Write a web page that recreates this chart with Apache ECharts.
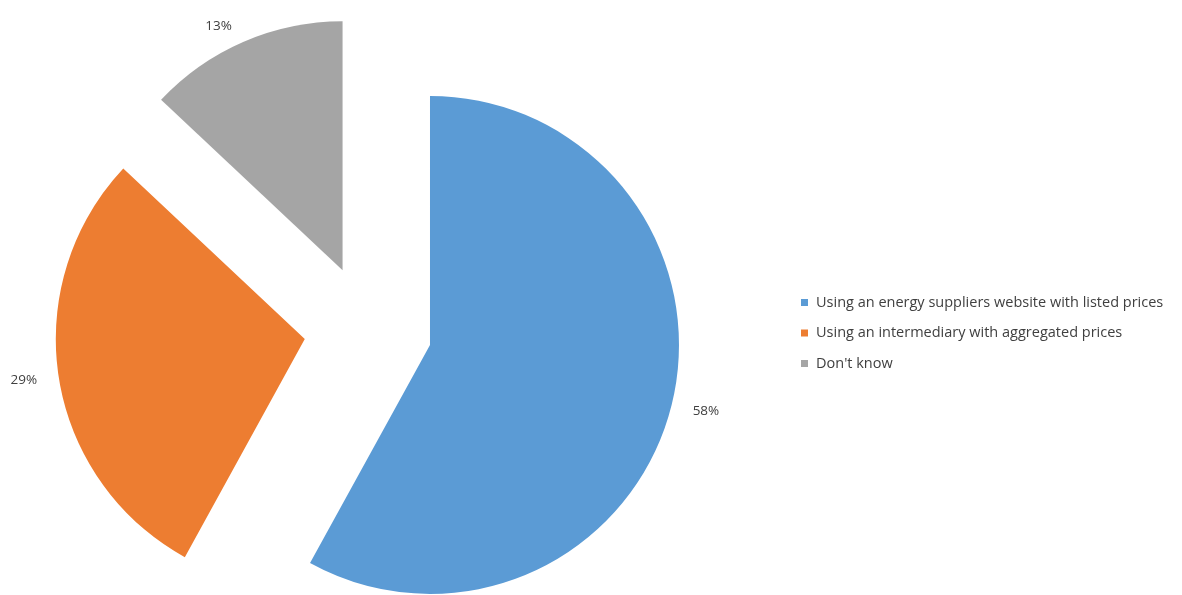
<!DOCTYPE html>
<html>
<head>
<meta charset="utf-8">
<title>Price comparison method</title>
<script src="https://cdn.jsdelivr.net/npm/echarts@6/dist/echarts.min.js"></script>
<style>
  html, body { margin: 0; padding: 0; background: #ffffff; }
  #chart { width: 1182px; height: 595px; }
</style>
</head>
<body>
<div id="chart"></div>
<script>
// Share of respondents by method used to compare energy prices
const categories = [
  'Using an energy suppliers website with listed prices',
  'Using an intermediary with aggregated prices',
  "Don't know"
];
const shares = [58, 29, 13];
const colors = ['#5B9BD5', '#ED7D31', '#A5A5A5'];

const chart = echarts.init(document.getElementById('chart'), null, { renderer: 'canvas' });

chart.setOption({
  animation: false,
  backgroundColor: '#ffffff',
  legend: {
    orient: 'vertical',
    left: 796,
    top: 289.5,
    icon: 'rect',
    itemWidth: 7,
    itemHeight: 7,
    itemGap: 14.5,
    selectedMode: false,
    textStyle: {
      fontFamily: 'Open Sans',
      fontSize: 14.5,
      lineHeight: 16,
      color: '#404040',
      padding: [0, 0, 0, 3]
    },
    data: categories
  },
  series: [{
    type: 'pie',
    center: [368, 329],
    radius: 249,
    startAngle: 90,
    clockwise: true,
    selectedMode: 'multiple',
    selectedOffset: 64,
    emphasis: { disabled: true },
    label: {
      show: true,
      position: 'outside',
      formatter: '{c}%',
      fontFamily: 'Open Sans',
      fontSize: 13.5,
      color: '#404040'
    },
    labelLine: { show: false, length: 17, length2: 0 },
    data: categories.map((name, i) => ({
      name: name,
      value: shares[i],
      selected: true,
      itemStyle: { color: colors[i] }
    }))
  }]
});
</script>
</body>
</html>
